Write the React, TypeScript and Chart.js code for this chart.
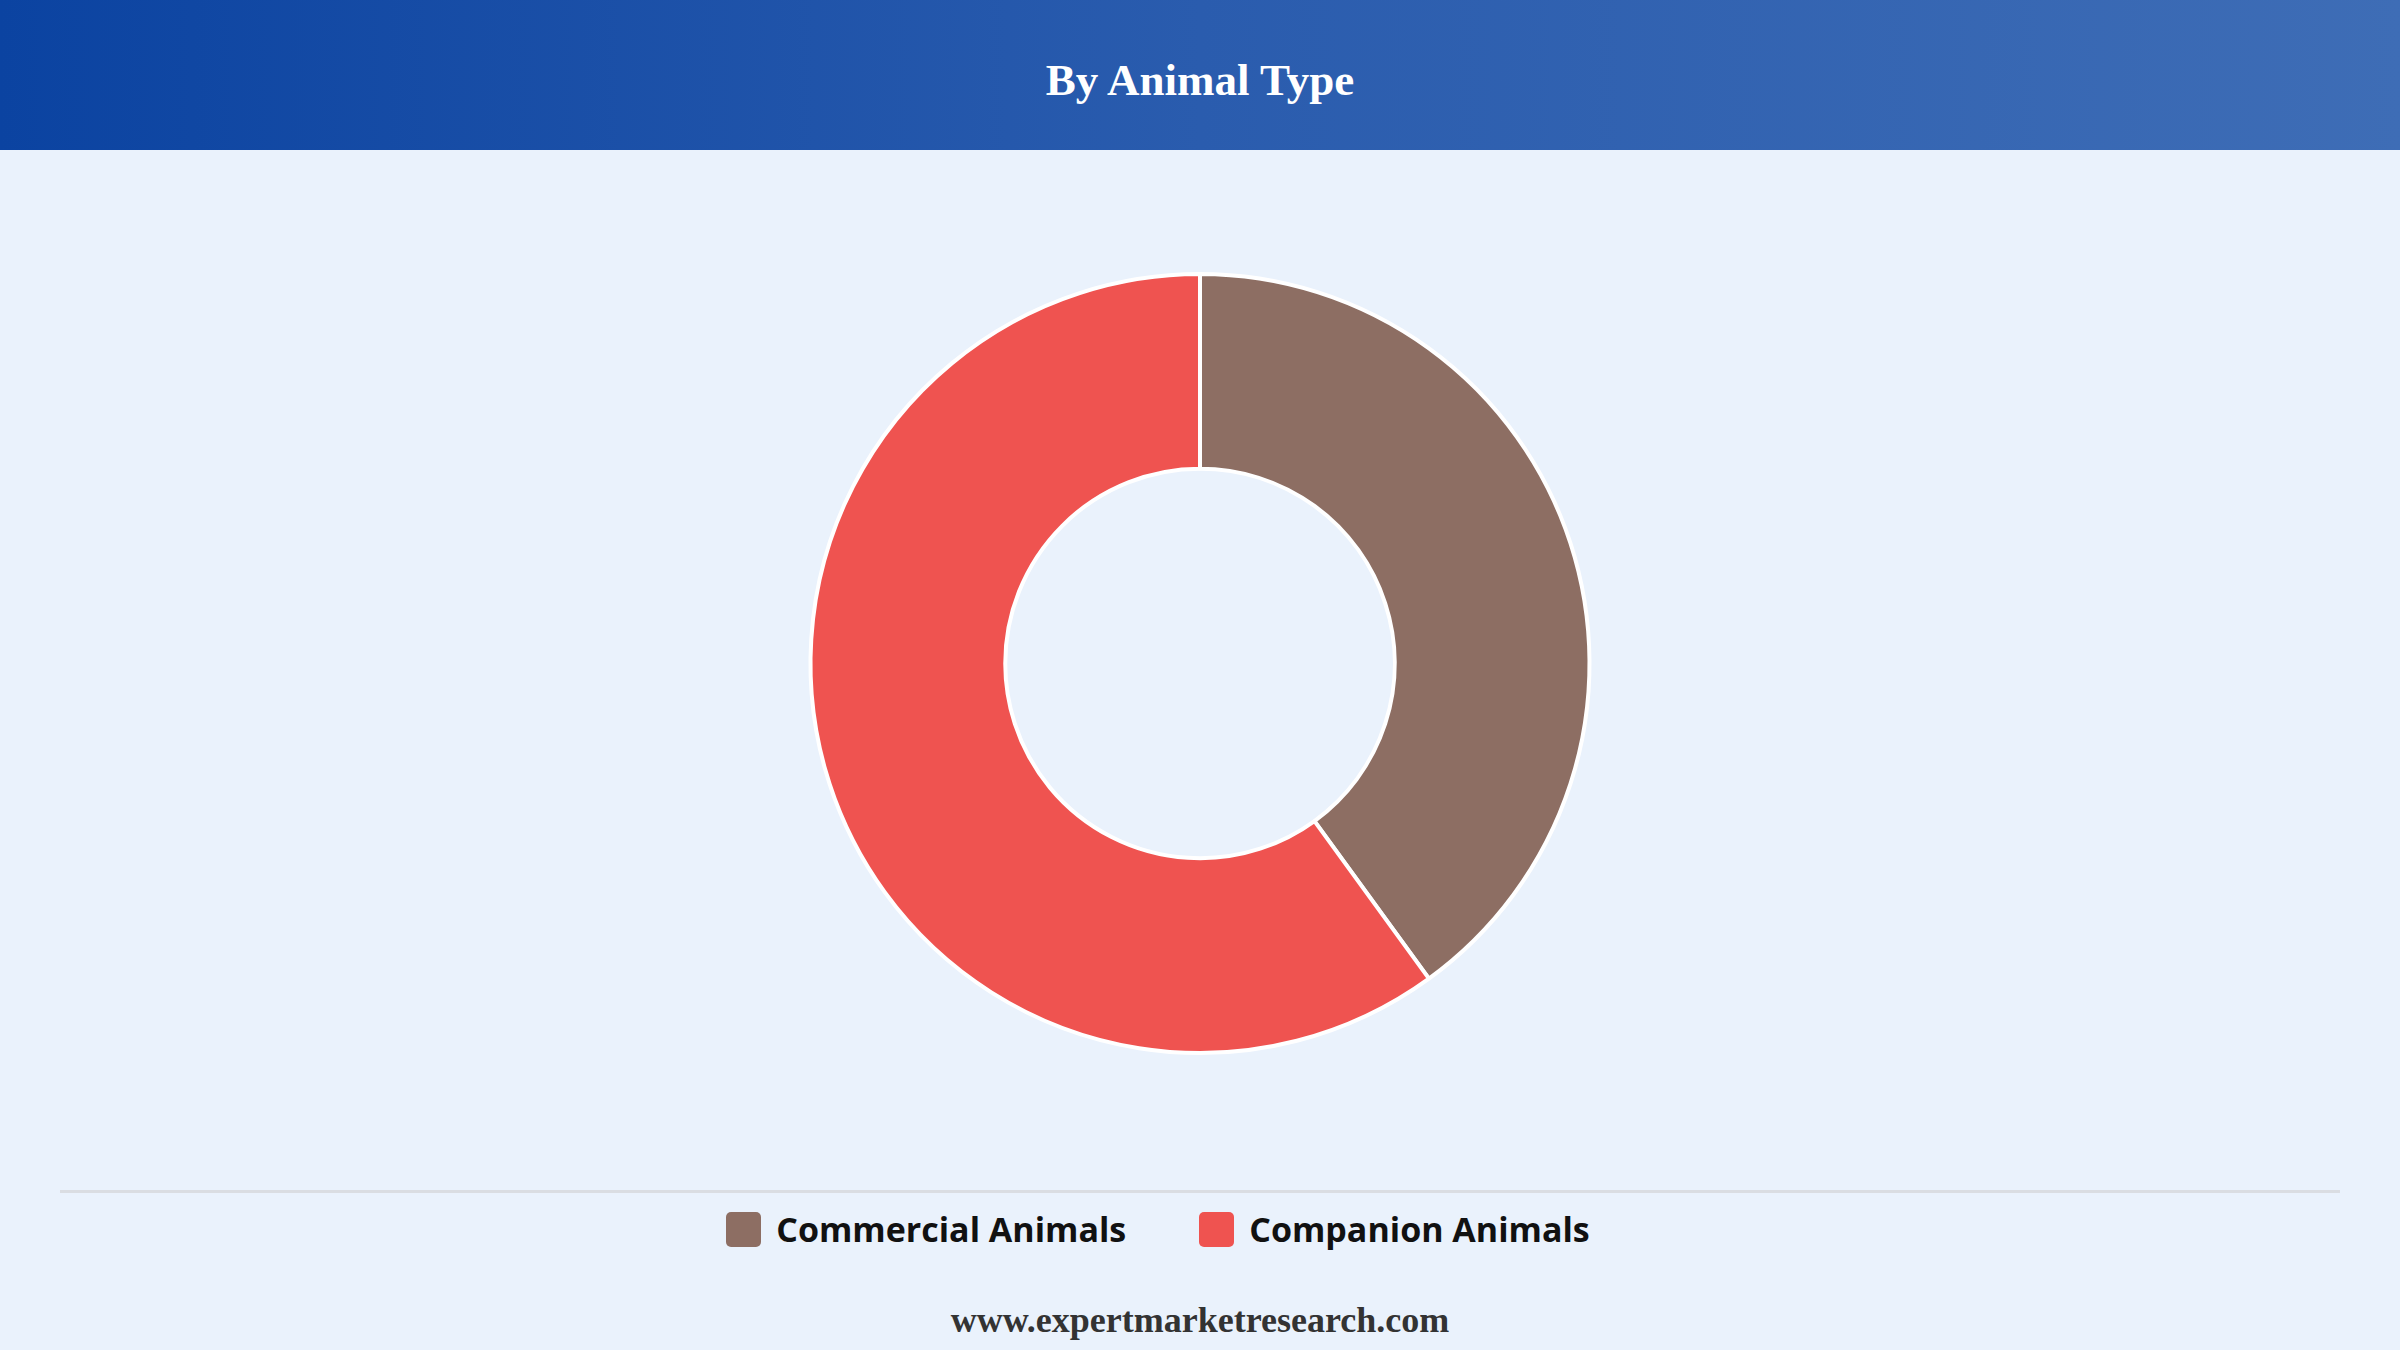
import React, { useEffect, useRef } from 'react';
import { Chart, registerables } from 'chart.js';

// share of market by animal type (%)
const categories = ['Commercial Animals', 'Companion Animals'];
const shares = [40, 60];
const sliceColors = ['#8d6e63', '#ef5350'];

const App: React.FC = () => {
  const canvasRef = useRef<HTMLCanvasElement | null>(null);
  const chartRef = useRef<Chart | null>(null);

  useEffect(() => {
    Chart.register(...registerables);
    document.body.style.margin = '0';

    if (!canvasRef.current) return;
    if (chartRef.current) chartRef.current.destroy();

    chartRef.current = new Chart(canvasRef.current, {
      type: 'doughnut',
      data: {
        labels: categories,
        datasets: [
          {
            data: shares,
            backgroundColor: sliceColors,
            borderColor: '#ffffff',
            borderWidth: 4,
          },
        ],
      },
      options: {
        animation: false,
        responsive: true,
        maintainAspectRatio: false,
        cutout: '50%',
        layout: { padding: 122 },
        plugins: {
          legend: { display: false },
          tooltip: { enabled: false },
        },
      },
    });

    return () => {
      if (chartRef.current) {
        chartRef.current.destroy();
        chartRef.current = null;
      }
    };
  }, []);

  return (
    <div
      style={{
        position: 'relative',
        width: '100%',
        height: '1350px',
        background: '#eaf2fc',
        overflow: 'hidden',
      }}
    >
      <div
        style={{
          height: '150px',
          background: 'linear-gradient(90deg, #0b43a1 0%, #2a5cae 50%, #3e6db6 100%)',
          display: 'flex',
          alignItems: 'center',
          justifyContent: 'center',
          paddingTop: '10px',
          boxSizing: 'border-box',
        }}
      >
        <span
          style={{
            color: '#ffffff',
            fontFamily: '"Liberation Serif", "Times New Roman", serif',
            fontWeight: 'bold',
            fontSize: '45px',
          }}
        >
          By Animal Type
        </span>
      </div>

      <div style={{ position: 'absolute', top: '150px', left: 0, width: '100%', height: '1027px' }}>
        <canvas ref={canvasRef} />
      </div>

      <div
        style={{
          position: 'absolute',
          top: '1190px',
          left: '60px',
          right: '60px',
          height: '3px',
          background: '#dadde2',
        }}
      />

      <div
        style={{
          position: 'absolute',
          top: '1209px',
          left: 0,
          width: '100%',
          height: '40px',
          display: 'flex',
          justifyContent: 'center',
          alignItems: 'center',
        }}
      >
        {categories.map((name, i) => (
          <div
            key={name}
            style={{
              display: 'flex',
              alignItems: 'center',
              marginLeft: i === 0 ? '0px' : '73px',
              marginRight: i === 1 ? '84px' : '0px',
            }}
          >
            <span
              style={{
                display: 'inline-block',
                width: '35px',
                height: '35px',
                borderRadius: '5px',
                background: sliceColors[i],
                marginRight: '15px',
              }}
            />
            <span
              style={{
                fontFamily: '"Open Sans", "Noto Sans", sans-serif',
                fontWeight: 'bold',
                fontSize: '34px',
                color: '#111111',
              }}
            >
              {name}
            </span>
          </div>
        ))}
      </div>

      <div
        style={{
          position: 'absolute',
          top: '1300px',
          left: 0,
          width: '100%',
          height: '40px',
          textAlign: 'center',
          lineHeight: '40px',
          fontFamily: '"Liberation Serif", "Times New Roman", serif',
          fontWeight: 'bold',
          fontSize: '36px',
          color: '#333333',
        }}
      >
        www.expertmarketresearch.com
      </div>
    </div>
  );
};

export default App;
